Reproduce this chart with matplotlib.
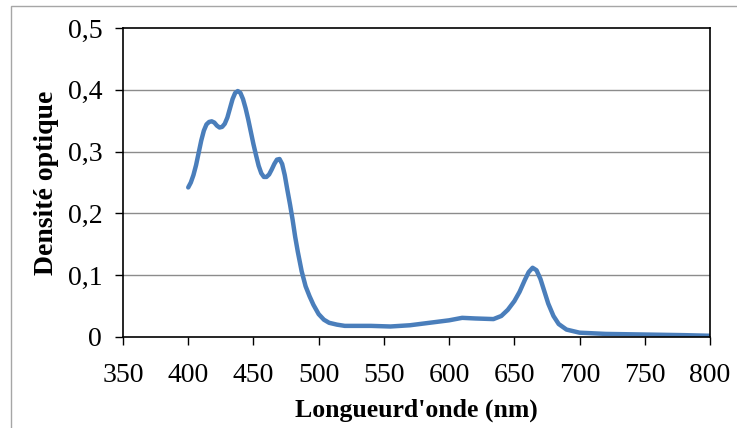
import matplotlib
matplotlib.use("Agg")
import matplotlib.pyplot as plt
from matplotlib.patches import Rectangle
from matplotlib.ticker import FuncFormatter

# spectre d'absorption
wavelength = [400, 402, 404, 406, 408, 410, 412, 414, 416, 418, 420, 422, 424, 426, 428,
              430, 432, 434, 436, 438, 440, 442, 444, 446, 448, 450, 452, 454, 456, 458,
              460, 462, 464, 466, 468, 470, 472, 474, 476, 478, 480, 482, 484, 487, 490,
              493, 496, 500, 504, 508, 514, 520, 530, 540, 555, 570, 585, 600, 610, 620,
              634, 640, 645, 650, 654, 658, 661, 664, 667, 670, 673, 676, 680, 684, 690,
              700, 720, 750, 780, 800]
density = [0.242, 0.250, 0.262, 0.278, 0.298, 0.318, 0.334, 0.344, 0.348, 0.349, 0.347, 0.342, 0.339, 0.340, 0.345,
           0.355, 0.370, 0.385, 0.395, 0.398, 0.395, 0.385, 0.370, 0.352, 0.332, 0.312, 0.294, 0.277, 0.265, 0.259,
           0.259, 0.263, 0.271, 0.280, 0.287, 0.288, 0.280, 0.262, 0.238, 0.215, 0.190, 0.162, 0.138, 0.106, 0.082,
           0.066, 0.052, 0.037, 0.028, 0.023, 0.020, 0.018, 0.018, 0.018, 0.017, 0.019, 0.023, 0.027, 0.031, 0.030,
           0.029, 0.034, 0.044, 0.058, 0.073, 0.092, 0.105, 0.112, 0.108, 0.094, 0.074, 0.054, 0.034, 0.021, 0.012,
           0.007, 0.005, 0.004, 0.003, 0.002]

x_ticks = list(range(350, 801, 50))
y_ticks = [0, 0.1, 0.2, 0.3, 0.4, 0.5]

plt.rcParams['font.family'] = ['Liberation Serif', 'DejaVu Serif']

fig = plt.figure(figsize=(7.37, 4.28), dpi=100)
# cadre extérieur gris
fig.patches.append(Rectangle((11 / 737, -0.1), 1.2, 1.1 - 6 / 428, transform=fig.transFigure,
                             fill=False, edgecolor='#a6a6a6', linewidth=1.0))

ax = fig.add_axes([123 / 737, 91 / 428, 587 / 737, 309 / 428])
ax.plot(wavelength, density, color='#4a7ebb', linewidth=3.2,
        solid_capstyle='round', solid_joinstyle='round')

ax.set_xlim(350, 800)
ax.set_ylim(0, 0.5)
ax.set_xticks(x_ticks)
ax.set_yticks(y_ticks)
ax.yaxis.set_major_formatter(FuncFormatter(lambda v, p: '0' if v == 0 else f'{v:.1f}'.replace('.', ',')))
ax.tick_params(direction='out', length=6, width=1, labelsize=20, colors='black')
ax.tick_params(axis='y', pad=9)
ax.tick_params(axis='x', pad=13)

for v in y_ticks[1:-1]:
    ax.axhline(v, color='#8c8c8c', linewidth=1.0, zorder=0)
for s in ax.spines.values():
    s.set_color('black')
    s.set_linewidth(1.2)

ax.set_xlabel("Longueurd'onde (nm)", fontsize=18.5, fontweight='bold', labelpad=7)
ax.set_ylabel("Densité optique", fontsize=20, fontweight='bold', labelpad=6)

fig.savefig('out.png', dpi=100)
